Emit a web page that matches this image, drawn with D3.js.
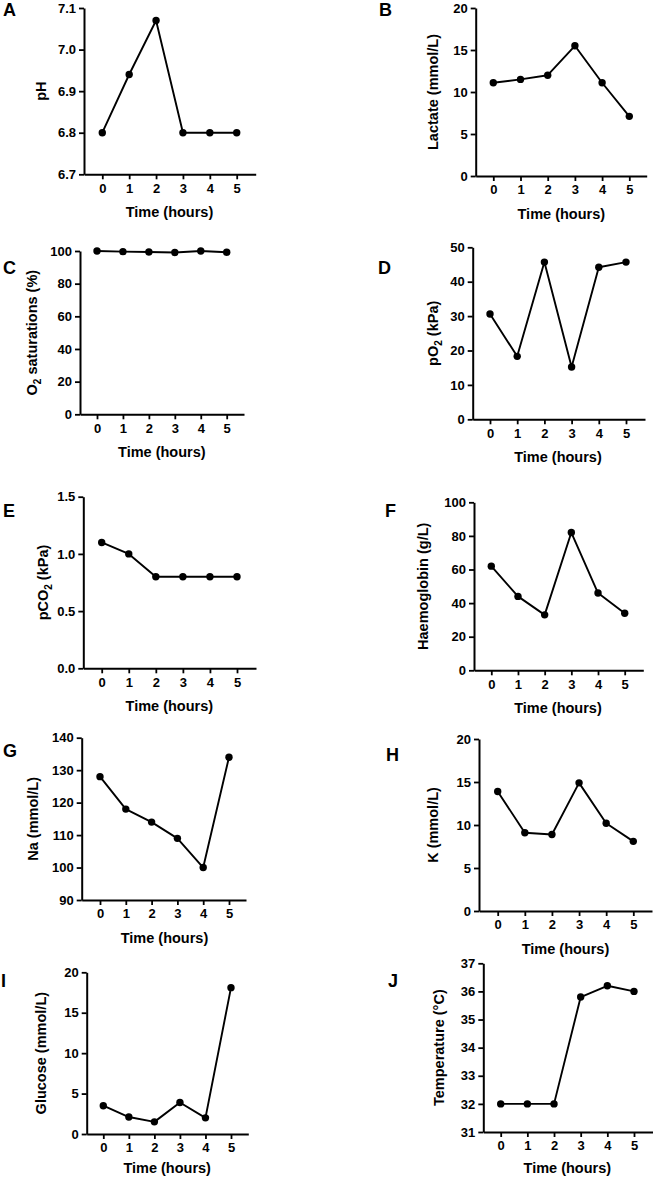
<!DOCTYPE html>
<html>
<head>
<meta charset="utf-8">
<script src="https://cdn.jsdelivr.net/npm/d3@7"></script>
<style>
  html, body { margin: 0; padding: 0; background: #fff; }
  svg text { font-family: "Liberation Sans", Arial, Helvetica, sans-serif; font-weight: bold; fill: #000; }
</style>
</head>
<body>
<svg id="chart" width="653" height="1178"></svg>
<script>
// ---------- DATA ----------
const hours = [0, 1, 2, 3, 4, 5];

const pH          = [6.80, 6.94, 7.07, 6.80, 6.80, 6.80];
const lactate     = [11.1, 11.5, 12.0, 15.5, 11.1, 7.1];
const o2Sat       = [100, 99.6, 99.4, 99.1, 100, 99.2];
const pO2         = [30.6, 18.3, 45.7, 15.2, 44.2, 45.7];
const pCO2        = [1.1, 1.0, 0.8, 0.8, 0.8, 0.8];
const haemoglobin = [62, 44, 33, 82, 46, 34];
const sodium      = [128, 118, 114, 109, 100, 134];
const potassium   = [13.9, 9.1, 8.9, 14.9, 10.2, 8.1];
const glucose     = [3.5, 2.1, 1.5, 3.9, 2.0, 18.1];
const temperature = [32.0, 32.0, 32.0, 35.8, 36.2, 36.0];

const pHTicks    = [6.7, 6.8, 6.9, 7.0, 7.1];
const lactTicks  = [0, 5, 10, 15, 20];
const o2SatTicks = [0, 20, 40, 60, 80, 100];
const pO2Ticks   = [0, 10, 20, 30, 40, 50];
const pCO2Ticks  = [0.0, 0.5, 1.0, 1.5];
const hbTicks    = [0, 20, 40, 60, 80, 100];
const naTicks    = [90, 100, 110, 120, 130, 140];
const kTicks     = [0, 5, 10, 15, 20];
const gluTicks   = [0, 5, 10, 15, 20];
const tempTicks  = [31, 32, 33, 34, 35, 36, 37];

const letters = ["A", "B", "C", "D", "E", "F", "G", "H", "I", "J"];
const yTitles = [
  [["pH", false]],
  [["Lactate (mmol/L)", false]],
  [["O", false], ["2", true], [" saturations (%)", false]],
  [["pO", false], ["2", true], [" (kPa)", false]],
  [["pCO", false], ["2", true], [" (kPa)", false]],
  [["Haemoglobin (g/L)", false]],
  [["Na (mmol/L)", false]],
  [["K (mmol/L)", false]],
  [["Glucose (mmol/L)", false]],
  [["Temperature (°C)", false]]
];
const xTitle = "Time (hours)";
const seriesList = [pH, lactate, o2Sat, pO2, pCO2, haemoglobin, sodium, potassium, glucose, temperature];
const tickList = [pHTicks, lactTicks, o2SatTicks, pO2Ticks, pCO2Ticks, hbTicks, naTicks, kTicks, gluTicks, tempTicks];
const tickFormats = [".1f", "d", "d", "d", ".1f", "d", "d", "d", "d", "d"];

// ---------- LAYOUT (pixel boxes of each plot) ----------
const layout = [
  {ax: 84,    top: 8,     bot: 174.3,  x0: 102.3, x5: 236.7, xend: 255.7, lx: 3,   ly: 16,   ytx: 41},
  {ax: 475.7, top: 8,     bot: 176,    x0: 493.3, x5: 629.3, xend: 646.7, lx: 379, ly: 16,   ytx: 432.5},
  {ax: 80,    top: 251,   bot: 414.3,  x0: 97,    x5: 226.7, xend: 244,   lx: 3,   ly: 274,  ytx: 31.7},
  {ax: 472.7, top: 247.3, bot: 419.3,  x0: 490,   x5: 626,   xend: 645,   lx: 378, ly: 274,  ytx: 433},
  {ax: 83.3,  top: 496.7, bot: 668.3,  x0: 101.7, x5: 237,   xend: 256,   lx: 3,   ly: 517,  ytx: 43},
  {ax: 474,   top: 502.3, bot: 670.3,  x0: 491.3, x5: 624.7, xend: 643.3, lx: 385, ly: 517,  ytx: 422.5},
  {ax: 81.7,  top: 737.7, bot: 900,    x0: 100,   x5: 229,   xend: 246,   lx: 3,   ly: 757,  ytx: 32.5},
  {ax: 479,   top: 739,   bot: 911,    x0: 497.7, x5: 633.3, xend: 652,   lx: 386, ly: 761,  ytx: 433},
  {ax: 86.7,  top: 972.3, bot: 1134,   x0: 103.3, x5: 231,   xend: 248.3, lx: 1,   ly: 987,  ytx: 41},
  {ax: 483.3, top: 963.3, bot: 1132,   x0: 500.7, x5: 634,   xend: 652.7, lx: 388, ly: 987,  ytx: 439}
];

const svg = d3.select("#chart");

layout.forEach((L, i) => {
  const g = svg.append("g");
  const ticks = tickList[i];
  const vals = seriesList[i];

  const x = d3.scaleLinear().domain([0, 5]).range([L.x0, L.x5]);
  const xs = d3.scaleLinear().domain([x.invert(L.ax), x.invert(L.xend)]).range([L.ax, L.xend]);
  const y = d3.scaleLinear().domain([d3.min(ticks), d3.max(ticks)]).range([L.bot, L.top]);

  const yAxis = d3.axisLeft(y).tickValues(ticks).tickFormat(d3.format(tickFormats[i]))
    .tickSize(5).tickSizeOuter(0).tickPadding(3);
  const xAxis = d3.axisBottom(xs).tickValues(hours).tickFormat(d3.format("d"))
    .tickSize(5).tickSizeOuter(0).tickPadding(4);

  const gy = g.append("g").attr("transform", `translate(${L.ax},0)`).call(yAxis);
  const gx = g.append("g").attr("transform", `translate(0,${L.bot})`).call(xAxis);
  [gx, gy].forEach(a => {
    a.select(".domain").attr("stroke", "#000").attr("stroke-width", 2);
    a.selectAll(".tick line").attr("stroke", "#000").attr("stroke-width", 1.8);
    a.selectAll(".tick text").attr("font-size", 13)
      .style("font-family", "'Liberation Sans', Arial, sans-serif").style("font-weight", "bold").attr("fill", "#000");
  });

  const line = d3.line().x((d, j) => x(hours[j])).y(d => y(d));
  g.append("path").datum(vals).attr("d", line)
    .attr("fill", "none").attr("stroke", "#000").attr("stroke-width", 1.9).attr("stroke-linejoin", "round");
  g.selectAll("circle.pt").data(vals).join("circle").attr("class", "pt")
    .attr("cx", (d, j) => x(hours[j])).attr("cy", d => y(d)).attr("r", 3.7).attr("fill", "#000");

  g.append("text").attr("x", (L.x0 + L.x5) / 2).attr("y", Math.min(L.bot + 43, 1173))
    .attr("text-anchor", "middle").attr("font-size", 14.5).text(xTitle);

  const yt = g.append("text")
    .attr("transform", `translate(${L.ytx + 5},${(L.top + L.bot) / 2}) rotate(-90)`)
    .attr("text-anchor", "middle").attr("font-size", 14.5);
  yTitles[i].forEach(([t, sub]) => {
    const ts = yt.append("tspan").text(t);
    if (sub) ts.attr("font-size", 10).attr("dy", 4);
    else if (yt.selectAll("tspan").size() > 1) ts.attr("dy", -4);
  });

  g.append("text").attr("x", L.lx).attr("y", L.ly).attr("font-size", 18).text(letters[i]);
});
</script>
</body>
</html>
